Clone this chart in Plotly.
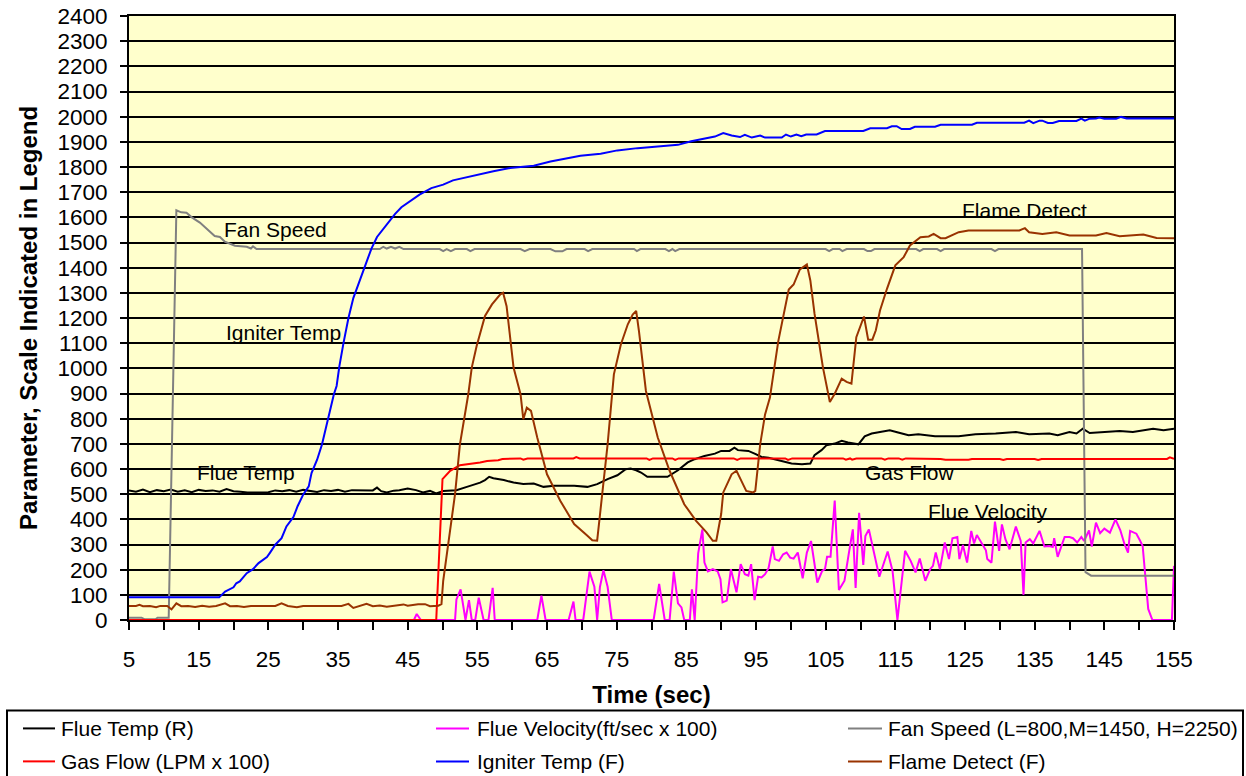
import plotly.graph_objects as go

# ---------------- data (time sec, value) ----------------
FLUE_TEMP = [
    (5, 515), (6, 510), (7, 518), (8, 508), (9, 516), (10, 512), (11, 518), (12, 510), (13, 515),
    (14, 508), (15, 517), (16, 513), (17, 515), (18, 510), (19, 520), (20, 512), (21, 510),
    (22, 507), (23, 507), (24, 507), (25, 508), (26, 515), (27, 512), (28, 516), (29, 510),
    (30, 517), (31, 514), (32, 509), (33, 516), (34, 513), (35, 517), (36, 510), (37, 516),
    (38, 515), (39, 517), (40, 515), (40.6, 526), (41.2, 512), (42, 507), (43, 514), (43.8, 516),
    (45.0, 522), (46.2, 516), (47.2, 507), (48.2, 513), (49.1, 503), (50.1, 513), (52.0, 516),
    (53.5, 529), (55.4, 546), (56.1, 556), (56.7, 569), (57.3, 563), (58.8, 556), (60.2, 546),
    (61.6, 540), (63.1, 542), (64.5, 529), (66.0, 533), (68.9, 533), (70.8, 529), (72.2, 540),
    (73.7, 560), (75.1, 575), (76.3, 599), (77.0, 602), (77.8, 595), (78.5, 586), (79.4, 569),
    (82.3, 569), (83.8, 595), (85.2, 626), (86.2, 639), (87.6, 652), (89.1, 661), (90.0, 672),
    (91.2, 672), (91.9, 685), (92.4, 675), (93.9, 672), (94.8, 661), (95.8, 648), (96.8, 645),
    (98.7, 632), (100.1, 622), (101.6, 619), (102.8, 622), (103.4, 655), (104.4, 675),
    (105.1, 694), (106.3, 701), (107.3, 712), (108.2, 705), (109.7, 698), (110.6, 730),
    (111.6, 741), (112.6, 745), (114.2, 754), (115.4, 745), (116.9, 734), (118.3, 738),
    (120.7, 730), (124.1, 730), (125.5, 734), (126.5, 738), (129.4, 741), (132.3, 747),
    (134.2, 738), (137.1, 741), (138.3, 734), (140.0, 747), (141.0, 741), (141.9, 760),
    (142.9, 743), (144.8, 747), (147.2, 751), (149.1, 747), (152.0, 760), (153.5, 754),
    (155.0, 760),
]

FLUE_VELOCITY = [
    (5, 0), (45.9, 0), (46.3, 24), (46.9, 0), (51.8, 0), (52.0, 82), (52.6, 122), (53.3, 0),
    (53.8, 79), (54.2, 0), (54.7, 0), (55.2, 89), (55.9, 0), (56.6, 0), (57.2, 128), (57.5, 0),
    (63.6, 0), (64.2, 97), (64.8, 0), (68.1, 0), (68.8, 73), (69.1, 0), (70.2, 0), (71.1, 192),
    (71.8, 132), (72.2, 0), (72.6, 132), (73.1, 198), (73.7, 132), (74.3, 0), (80.3, 0),
    (81.1, 143), (81.9, 0), (82.6, 0), (83.2, 192), (83.8, 66), (84.3, 50), (84.7, 0), (85.5, 0),
    (85.8, 122), (86.2, 0), (86.7, 265), (87.3, 360), (87.6, 228), (88.1, 193), (88.8, 202),
    (89.5, 193), (89.9, 162), (90.2, 70), (90.8, 77), (91.4, 202), (92.2, 110), (92.8, 222),
    (93.4, 182), (93.9, 176), (94.3, 222), (94.8, 79), (95.3, 172), (95.8, 169), (96.3, 182),
    (96.8, 206), (97.4, 292), (97.7, 242), (98.3, 235), (98.9, 261), (99.4, 268), (99.9, 248),
    (100.4, 244), (101.0, 268), (101.7, 166), (102.3, 268), (102.9, 314), (103.8, 149),
    (104.5, 195), (104.9, 202), (105.2, 251), (105.7, 251), (106.3, 475), (106.9, 119),
    (107.7, 156), (108.3, 261), (108.9, 360), (109.3, 127), (109.8, 426), (110.4, 219),
    (110.7, 334), (111.2, 360), (111.9, 268), (112.7, 172), (113.9, 272), (114.6, 195),
    (115.3, 0), (116.4, 275), (117.2, 235), (117.9, 189), (118.5, 244), (119.3, 156),
    (120.0, 202), (120.4, 215), (120.8, 268), (121.4, 202), (122.1, 308), (122.7, 242),
    (123.2, 325), (123.9, 330), (124.2, 242), (124.7, 298), (125.3, 228), (125.9, 354),
    (126.3, 304), (126.7, 338), (128.0, 277), (128.2, 242), (128.8, 228), (129.3, 391),
    (129.9, 275), (130.3, 380), (130.8, 321), (131.4, 281), (132.3, 371), (133.0, 314),
    (133.4, 100), (133.7, 308), (134.3, 321), (134.8, 304), (135.7, 354), (136.4, 292),
    (137.1, 294), (137.6, 290), (137.8, 325), (138.3, 251), (139.3, 330), (140.0, 330),
    (140.5, 325), (141.1, 308), (141.7, 330), (142.1, 314), (142.8, 356), (143.2, 292),
    (143.8, 387), (144.4, 345), (145.0, 363), (145.8, 347), (146.6, 400), (147.3, 356),
    (147.9, 301), (148.4, 268), (148.7, 354), (149.6, 343), (150.1, 317), (150.5, 294),
    (150.9, 169), (151.3, 44), (151.9, 0), (154.7, 0), (155.0, 215),
]

FAN_SPEED = [
    (5, 9), (6.8, 9), (7.2, 3), (8.8, 3), (9.1, 9), (10.7, 9), (11.8, 1628), (12.5, 1620),
    (13.25, 1618), (13.97, 1601), (15.17, 1579), (16.13, 1555), (17.3, 1526), (18.05, 1522),
    (18.76, 1503), (20.2, 1487), (21.9, 1483), (22.5, 1476), (22.8, 1485), (23.3, 1474),
    (41.0, 1474), (41.5, 1483), (42.0, 1476), (42.6, 1483), (43.2, 1476), (43.8, 1483),
    (44.4, 1474), (49.6, 1474), (50.1, 1466), (50.6, 1474), (51.2, 1466), (51.8, 1474),
    (53.5, 1474), (54.0, 1466), (54.6, 1474), (61.2, 1474), (61.8, 1466), (62.5, 1474),
    (65.5, 1474), (66.2, 1465), (67.2, 1465), (67.8, 1474), (70.4, 1474), (70.9, 1466),
    (71.5, 1474), (77.5, 1474), (77.9, 1466), (78.4, 1474), (82.0, 1474), (82.5, 1466),
    (83.0, 1474), (83.4, 1466), (84.0, 1474), (105.0, 1474), (105.5, 1466), (106.0, 1474),
    (107.0, 1474), (107.4, 1466), (108.0, 1474), (110.5, 1474), (111.0, 1466), (111.5, 1466),
    (112.0, 1474), (118.0, 1474), (118.5, 1466), (119.0, 1474), (121.0, 1474), (121.5, 1466),
    (122.0, 1474), (128.8, 1474), (129.3, 1466), (129.8, 1474), (141.8, 1474), (142.3, 190),
    (143.1, 176), (155.0, 176),
]

GAS_FLOW = [
    (5, 0), (49.1, 0), (50.0, 560), (51.1, 593), (52.5, 615), (53.9, 619), (55.4, 626),
    (56.4, 632), (58.0, 635), (58.6, 640), (59.7, 642), (61.2, 642), (61.6, 637), (62.2, 642),
    (68.8, 642), (69.2, 647), (69.7, 642), (79.3, 642), (79.7, 636), (80.2, 642), (83.0, 642),
    (83.4, 636), (83.9, 642), (91.8, 642), (92.3, 636), (92.8, 642), (99.2, 642), (99.6, 636),
    (100.2, 642), (107.5, 642), (107.9, 637), (108.5, 642), (108.8, 637), (109.4, 642),
    (113.0, 642), (113.5, 637), (114.0, 642), (115.5, 642), (116.0, 637), (116.5, 642),
    (121.5, 640), (122.2, 637), (125.5, 637), (126.0, 640), (130.0, 640), (130.5, 636),
    (131.0, 640), (135.0, 640), (135.5, 636), (136.0, 640), (154.0, 640), (154.4, 646),
    (155.0, 640),
]

IGNITER_TEMP = [
    (5, 90), (17.95, 90), (18.8, 113), (20.0, 130), (20.4, 146), (20.9, 153), (21.9, 186),
    (22.8, 202), (23.6, 226), (24.8, 250), (25.2, 266), (26.0, 299), (26.9, 325), (27.6, 372),
    (28.6, 409), (29.2, 452), (30.0, 498), (30.8, 531), (31.2, 584), (32.0, 637), (32.7, 697),
    (33.2, 757), (33.9, 837), (34.4, 896), (34.8, 930), (35.2, 1009), (35.8, 1102),
    (36.5, 1200), (37.2, 1279), (37.9, 1332), (38.4, 1371), (39.1, 1424), (39.8, 1476),
    (40.6, 1522), (41.7, 1562), (42.5, 1588), (43.2, 1614), (44.1, 1640), (45.3, 1663),
    (46.7, 1690), (48.4, 1716), (50.1, 1730), (51.5, 1747), (53.5, 1760), (55.4, 1772),
    (57.3, 1783), (59.7, 1796), (63.1, 1805), (65.5, 1822), (67.9, 1835), (69.8, 1845),
    (72.7, 1853), (75.1, 1866), (78.0, 1875), (81.9, 1882), (83.8, 1888), (85.7, 1902),
    (87.6, 1912), (89.1, 1921), (90.3, 1935), (91.5, 1925), (92.7, 1919), (93.4, 1928),
    (94.4, 1917), (95.6, 1925), (96.3, 1917), (98.7, 1917), (99.3, 1929), (100.0, 1921),
    (100.8, 1929), (101.5, 1922), (102.2, 1929), (103.7, 1929), (104.9, 1943), (110.4, 1943),
    (111.4, 1954), (113.8, 1954), (114.5, 1962), (115.2, 1962), (115.9, 1951), (117.1, 1951),
    (117.8, 1960), (120.7, 1960), (121.5, 1968), (126.0, 1968), (126.7, 1976), (133.5, 1976),
    (134.2, 1984), (134.8, 1974), (135.7, 1984), (136.1, 1984), (136.9, 1975), (137.6, 1975),
    (138.5, 1983), (141.0, 1983), (141.7, 1992), (142.2, 1984), (142.9, 1992), (143.8, 1993),
    (144.3, 1997), (145.0, 1992), (146.7, 1992), (147.4, 1999), (148.2, 1993), (155.0, 1993),
]

FLAME_DETECT = [
    (5, 56), (6, 56), (6.5, 60), (7, 55), (8, 56), (8.9, 51), (9.5, 56), (10.5, 56), (11.1, 42),
    (11.8, 66), (12.5, 55), (13.5, 56), (14.5, 52), (15.5, 57), (16.5, 53), (17.5, 56),
    (18.8, 66), (19.5, 55), (20.5, 56), (21.5, 52), (22.5, 56), (26.0, 56), (26.9, 66),
    (27.8, 56), (29.1, 51), (30, 56), (35.5, 56), (36.5, 64), (37.2, 48), (38, 56), (39.1, 64),
    (40, 55), (41, 58), (42, 53), (43, 56), (44.4, 62), (45, 57), (46.5, 63), (47.5, 63),
    (48.2, 55), (49.4, 57), (49.85, 63), (50.1, 156), (51.8, 500), (52.5, 698), (53.7, 897),
    (54.2, 1003), (54.9, 1089), (56.1, 1208), (57.1, 1254), (58.3, 1294), (58.7, 1300),
    (59.2, 1247), (60.2, 1003), (61.2, 897), (61.6, 798), (62.1, 844), (62.7, 831), (63.6, 725),
    (65.0, 579), (66.9, 474), (68.9, 381), (70.8, 335), (71.5, 317), (72.2, 315), (72.7, 434),
    (73.7, 698), (74.6, 976), (75.6, 1095), (76.6, 1175), (77.3, 1214), (77.8, 1228),
    (78.2, 1148), (79.2, 910), (80.9, 725), (82.6, 593), (84.7, 460), (86.4, 394), (87.9, 348),
    (88.8, 315), (89.3, 315), (90.0, 421), (90.3, 507), (91.5, 579), (92.2, 593), (92.9, 553),
    (93.6, 513), (94.6, 507), (94.9, 513), (95.6, 698), (96.3, 817), (97.0, 884), (98.2, 1108),
    (99.7, 1313), (100.4, 1333), (101.3, 1393), (102.3, 1413), (102.8, 1349), (103.4, 1217),
    (104.6, 1005), (105.6, 866), (106.3, 899), (107.3, 959), (108.0, 946), (108.7, 939),
    (109.4, 1124), (110.5, 1206), (111.1, 1114), (111.7, 1114), (112.2, 1151), (112.8, 1230),
    (113.8, 1316), (115.0, 1409), (116.2, 1442), (117.1, 1488), (118.6, 1521), (119.8, 1524),
    (120.5, 1534), (121.5, 1517), (122.2, 1517), (124.1, 1541), (125.5, 1548), (132.8, 1548),
    (133.6, 1557), (134.2, 1541), (136.1, 1534), (138.1, 1541), (140.0, 1528), (143.8, 1528),
    (145.3, 1538), (147.2, 1525), (150.6, 1532), (152.5, 1518), (155.0, 1517),
]

X_TICKS = list(range(5, 156, 10))
Y_TICKS = list(range(0, 2401, 100))

# legend order (row-major, 3 columns, 2 rows)
SERIES = [
    ("Flue Temp (R)", FLUE_TEMP, "#000000"),
    ("Flue Velocity(ft/sec x 100)", FLUE_VELOCITY, "#FF00FF"),
    ("Fan Speed (L=800,M=1450, H=2250)", FAN_SPEED, "#808080"),
    ("Gas Flow (LPM x 100)", GAS_FLOW, "#FF0000"),
    ("Igniter Temp (F)", IGNITER_TEMP, "#0000FF"),
    ("Flame Detect (F)", FLAME_DETECT, "#993300"),
]

LABELS = [
    ("Fan Speed", 25.96, 1553),
    ("Igniter Temp", 27.18, 1141),
    ("Flue Temp", 21.79, 585),
    ("Gas Flow", 117.1, 585),
    ("Flue Velocity", 128.3, 431),
    ("Flame Detect", 133.5, 1628),
]

FONT = "Liberation Sans, Arial, sans-serif"

# ---------------- layout geometry (page pixels; body margin removed below) ----------------
W, H = 1246, 776
ML, MT = 129, 16
PW, PH = 1045, 604.5
MR, MB = W - ML - PW, H - MT - PH


def px(xpix):
    return (xpix - ML) / PW


def py(ypix):
    return (MT + PH - ypix) / PH


LEG_BOX = (7, 711, 1243, 800)
LEG_ROWS = [729, 762]
LEG_LINE_X = [(23, 55), (436, 469), (848, 882)]
LEG_TEXT_X = [59, 475, 886]

fig = go.Figure()
for name, pts, color in SERIES:
    fig.add_trace(go.Scatter(
        x=[p[0] for p in pts], y=[p[1] for p in pts], mode="lines", name=name,
        line=dict(color=color, width=2), hoverinfo="skip", showlegend=False,
    ))

for text, xv, yv in LABELS:
    fig.add_annotation(x=xv, y=yv, text=text, showarrow=False,
                       font=dict(family=FONT, size=21, color="black"),
                       xanchor="center", yanchor="middle")

# legend box drawn below the plot
fig.add_shape(type="rect", xref="paper", yref="paper",
              x0=px(LEG_BOX[0]), x1=px(LEG_BOX[2]), y0=py(LEG_BOX[1]), y1=py(LEG_BOX[3]),
              line=dict(color="black", width=2), fillcolor="white", layer="above")
for i, (name, pts, color) in enumerate(SERIES):
    row, col = divmod(i, 3)
    yy = py(LEG_ROWS[row])
    x0, x1 = LEG_LINE_X[col]
    fig.add_shape(type="line", xref="paper", yref="paper",
                  x0=px(x0), x1=px(x1), y0=yy, y1=yy,
                  line=dict(color=color, width=2), layer="above")
    fig.add_annotation(xref="paper", yref="paper", x=px(LEG_TEXT_X[col]), y=yy,
                       text=name, showarrow=False, xanchor="left", yanchor="middle",
                       font=dict(family=FONT, size=21, color="black"))

fig.update_layout(
    template="none",
    width=W, height=H,
    margin=dict(l=ML, r=MR, t=MT, b=MB, pad=0, autoexpand=False),
    paper_bgcolor="white",
    plot_bgcolor="#FFFFCC",
    font=dict(family=FONT, size=22, color="black"),
    showlegend=False,
    hovermode=False,
    xaxis=dict(
        range=[5, 155], tickmode="array", tickvals=X_TICKS,
        ticktext=[str(v) for v in X_TICKS],
        ticks="outside", ticklen=8, tickwidth=2, tickcolor="black",
        minor=dict(tickmode="linear", tick0=5, dtick=5, ticks="outside", ticklen=8,
                   tickwidth=2, tickcolor="black", showgrid=False),
        showgrid=False, zeroline=False,
        showline=True, linecolor="black", linewidth=2, mirror=True,
        ticklabelstandoff=10,
        tickfont=dict(family=FONT, size=22.5, color="black"),
        title=dict(text="Time (sec)", standoff=15,
                   font=dict(family=FONT, size=24, color="black", weight="bold")),
    ),
    yaxis=dict(
        range=[0, 2400], tickmode="array", tickvals=Y_TICKS,
        ticktext=[str(v) for v in Y_TICKS],
        ticks="outside", ticklen=7, tickwidth=2, tickcolor="black",
        showgrid=True, gridcolor="black", gridwidth=2,
        zeroline=False,
        showline=True, linecolor="black", linewidth=2, mirror=True,
        ticklabelstandoff=8, ticklabeloverflow="allow",
        tickfont=dict(family=FONT, size=22.5, color="black"),
        title=dict(text="Parameter, Scale Indicated in Legend", standoff=13,
                   font=dict(family=FONT, size=24, color="black", weight="bold")),
    ),
)

fig.write_html(
    "out.html",
    config={"displayModeBar": False},
    post_script="document.body.style.margin='0';document.body.style.overflow='hidden';",
)
